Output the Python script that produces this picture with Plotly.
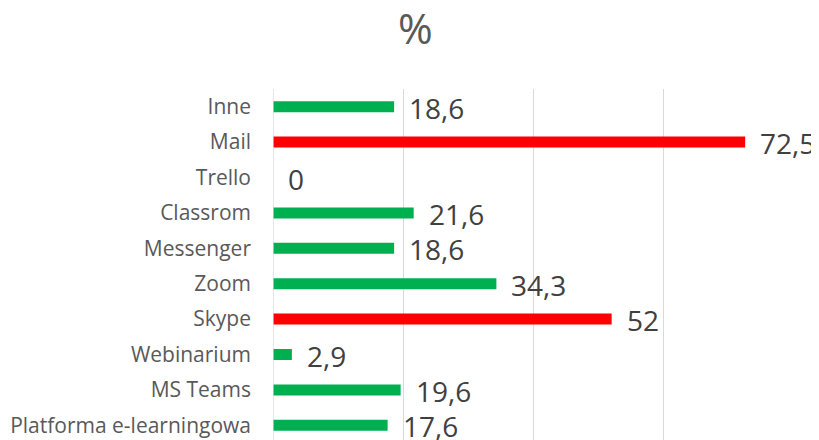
import plotly.graph_objects as go

categories = ["Platforma e-learningowa", "MS Teams", "Webinarium", "Skype", "Zoom",
              "Messenger", "Classrom", "Trello", "Mail", "Inne"]
values = [17.6, 19.6, 2.9, 52, 34.3, 18.6, 21.6, 0, 72.5, 18.6]
highlight = ["Skype", "Mail"]
title_text = "%"

GREEN = "#00B050"
RED = "#FF0000"
colors = [RED if c in highlight else GREEN for c in categories]

# The page body adds an 8px margin, so the figure is sized/offset to compensate
W, H = 819, 440
ML, MR, MT, MB = 265, 33, 81, 8

fig = go.Figure()
fig.add_trace(go.Bar(
    x=values, y=categories, orientation="h",
    marker=dict(color=colors, line=dict(width=0)),
    width=0.31, hoverinfo="skip",
))

for c, v in zip(categories, values):
    fig.add_annotation(
        x=v, y=c, xref="x", yref="y",
        text=f"{v:g}".replace(".", ","),
        showarrow=False, xanchor="left", yanchor="middle",
        xshift=13, yshift=-1,
        font=dict(family="Open Sans", size=28, color="#404040"),
    )

fig.add_annotation(
    xref="paper", yref="paper",
    x=(407 - ML) / (W - ML - MR),
    y=1 + (MT - 19) / (H - MT - MB),
    xanchor="center", yanchor="middle",
    text=title_text, showarrow=False,
    font=dict(family="Open Sans", size=42, color="#595959"),
)

fig.update_layout(
    width=W, height=H,
    margin=dict(l=ML, r=MR, t=MT, b=MB, autoexpand=False),
    paper_bgcolor="white", plot_bgcolor="white",
    showlegend=False,
    xaxis=dict(range=[0, 80], dtick=20, showticklabels=False, showgrid=True,
               gridcolor="#D9D9D9", gridwidth=1.3, zeroline=False, showline=False,
               fixedrange=True),
    yaxis=dict(categoryorder="array", categoryarray=categories,
               range=[-0.415, 9.5], showgrid=False, zeroline=False, showline=False,
               ticks="", ticklabelstandoff=21, automargin=False,
               tickfont=dict(family="Open Sans", size=21, color="#595959")),
)
fig.add_vline(x=0, line=dict(color="#D9D9D9", width=1.3))

fig.write_html("out.html")
